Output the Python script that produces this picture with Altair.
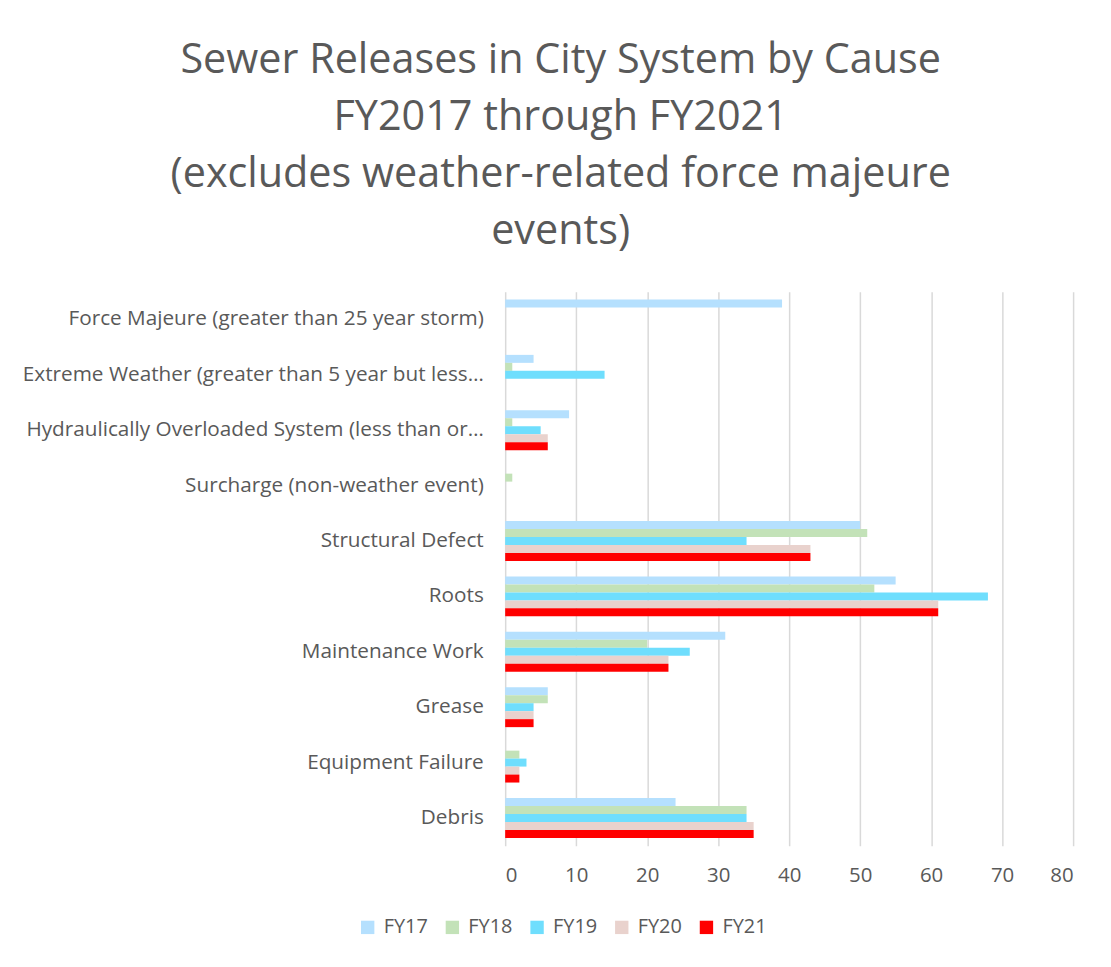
import altair as alt
import pandas as pd

categories = [
    "Force Majeure (greater than 25 year storm)",
    "Extreme Weather (greater than 5 year but less…",
    "Hydraulically Overloaded System (less than or…",
    "Surcharge (non-weather event)",
    "Structural Defect",
    "Roots",
    "Maintenance Work",
    "Grease",
    "Equipment Failure",
    "Debris",
]
years = ["FY17", "FY18", "FY19", "FY20", "FY21"]
fy17 = [39, 4, 9, 0, 50, 55, 31, 6, 0, 24]
fy18 = [0, 1, 1, 1, 51, 52, 20, 6, 2, 34]
fy19 = [0, 14, 5, 0, 34, 68, 26, 4, 3, 34]
fy20 = [0, 0, 6, 0, 43, 61, 23, 4, 2, 35]
fy21 = [0, 0, 6, 0, 43, 61, 23, 4, 2, 35]
colors = ["#B5E0FE", "#C3E2B8", "#6FDEFD", "#E9D2CD", "#FF0000"]
title_lines = [
    "Sewer Releases in City System by Cause",
    "FY2017 through FY2021",
    "(excludes weather-related force majeure",
    "events)",
]

rows = []
for yr, vals in zip(years, [fy17, fy18, fy19, fy20, fy21]):
    for c, v in zip(categories, vals):
        rows.append({"cause": c, "year": yr, "value": v})
df = pd.DataFrame(rows)

FONT = "Open Sans"
GREY = "#595959"

chart = (
    alt.Chart(df)
    .mark_bar()
    .encode(
        y=alt.Y(
            "cause:N",
            sort=categories,
            title=None,
            scale=alt.Scale(paddingInner=0.28, paddingOuter=0.14),
            axis=alt.Axis(
                ticks=False,
                domain=False,
                labelPadding=22,
                labelLimit=600,
                labelFontSize=20.8,
                labelColor=GREY,
                labelFont=FONT,
                minExtent=480,
                maxExtent=480,
            ),
        ),
        yOffset=alt.YOffset("year:N", sort=years),
        x=alt.X(
            "value:Q",
            title=None,
            scale=alt.Scale(domain=[0, 80]),
            axis=alt.Axis(
                values=[0, 10, 20, 30, 40, 50, 60, 70, 80],
                ticks=False,
                domain=False,
                labelPadding=20,
                labelFontSize=20.5,
                labelColor=GREY,
                labelFont=FONT,
                gridColor="#D9D9D9",
                gridWidth=1.5,
            ),
        ),
        color=alt.Color(
            "year:N",
            sort=years,
            scale=alt.Scale(domain=years, range=colors),
            legend=alt.Legend(
                title=None,
                orient="none",
                direction="horizontal",
                legendX=-148,
                legendY=628,
                symbolType="square",
                symbolSize=180,
                symbolStrokeWidth=0,
                labelFontSize=20,
                labelColor=GREY,
                labelFont=FONT,
                labelOffset=6,
                columnPadding=14,
                padding=0,
            ),
        ),
    )
    .properties(
        width=570,
        height=556,
        title=alt.TitleParams(
            text=title_lines,
            fontSize=41.5,
            lineHeight=57.5,
            font=FONT,
            fontWeight="normal",
            color=GREY,
            anchor="middle",
            frame="bounds",
            dx=13,
            offset=39,
        ),
        padding={"left": 14, "top": 30, "right": 30, "bottom": 30},
        background="white",
    )
    .configure_view(stroke=None)
)

chart.save("out.html", embed_options={"renderer": "svg", "actions": False})
